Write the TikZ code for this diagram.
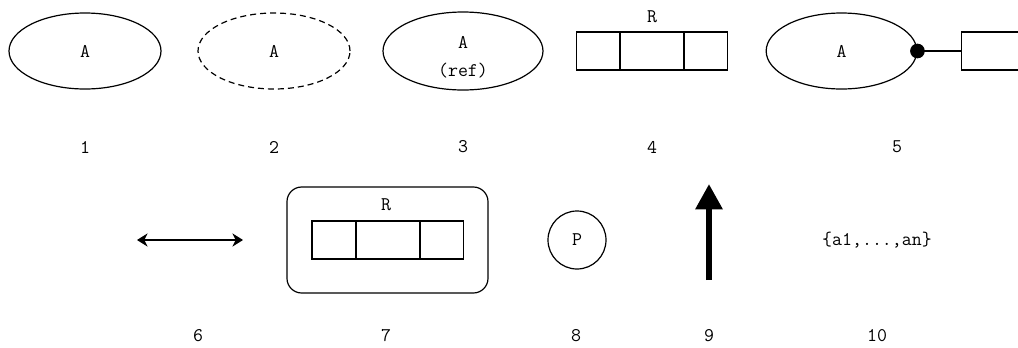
\documentclass[tikz,border=0pt]{standalone}
\usetikzlibrary{shapes.geometric,arrows.meta}
\begin{document}
\begin{tikzpicture}[x=0.75pt,y=-0.75pt,
  txt/.style={font=\ttfamily\fontsize{14.5}{17}\selectfont, inner sep=0pt},
  ent/.style={ellipse, draw, line width=0.9pt, minimum width=114pt, minimum height=57pt, inner sep=0pt, font=\ttfamily\fontsize{14.5}{17}\selectfont},
  cell/.style={rectangle, draw, line width=0.9pt, minimum height=28.5pt, inner sep=0pt},
  narrow/.style={cell, minimum width=32.5pt},
  wide/.style={cell, minimum width=48pt}]
\clip (0,0) rectangle (1018,347);
% 1
\node[ent] (e1) at (85,51) {A};
\node[txt] (l1) at (85,147) {1};
% 2
\node[ent, dashed, dash pattern=on 4.5pt off 3pt] (e2) at (274,51) {A};
\node[txt] (l2) at (274,147) {2};
% 3
\node[ent, minimum width=120pt, minimum height=58.5pt] (e3) at (463,51) {};
\node[txt] (e3a) at (463,42) {A};
\node[txt] (e3b) at (463,71) {(ref)};
\node[txt] (l3) at (463,147) {3};
% 4
\node[narrow] (r4a) at (598.5,51) {};
\node[wide] (r4b) at (652,51) {};
\node[narrow] (r4c) at (705.5,51) {};
\node[txt] (r4l) at (652,17) {R};
\node[txt] (l4) at (652,147) {4};
% 5
\node[ent, minimum width=113pt] (e5) at (841.5,51) {A};
\node[circle, fill=black, minimum size=11pt, inner sep=0pt] (d5) at (e5.east) {};
\node[rectangle, draw, line width=0.9pt, minimum height=28.5pt, minimum width=60pt, inner sep=0pt, anchor=west] (r5) at (961,51) {};
\draw[line width=0.9pt] (d5.center) -- (r5.west);
\node[txt] (l5) at (897,147) {5};
% 6
\coordinate (a6l) at (137,240);
\coordinate (a6r) at (243,240);
\draw[line width=0.9pt, {Stealth[length=8pt,width=10pt,inset=2.5pt]}-{Stealth[length=8pt,width=10pt,inset=2.5pt]}] (a6l) -- (a6r);
\node[txt] (l6) at (198,336) {6};
% 7
\node[draw, line width=0.9pt, rounded corners=11pt, minimum width=150.75pt, minimum height=79.5pt, inner sep=0pt] (b7) at (387.5,240) {};
\node[narrow, minimum width=33pt] (r7a) at (334,240) {};
\node[wide] (r7b) at (388,240) {};
\node[narrow] (r7c) at (441.5,240) {};
\node[txt] (r7l) at (386,205) {R};
\node[txt] (l7) at (386,336) {7};
% 8
\node[circle, draw, line width=0.9pt, minimum size=43.5pt, inner sep=0pt, font=\ttfamily\fontsize{14.5}{17}\selectfont] (c8) at (577,240) {P};
\node[txt] (l8) at (576,336) {8};
% 9
\coordinate (a9b) at (709,280);
\coordinate (a9t) at (709,184);
\draw[line width=4.5pt, -{Triangle[length=19pt,width=19.5pt]}] (a9b) -- (a9t);
\node[txt] (l9) at (709,336) {9};
% 10
\node[txt] (t10) at (877,240) {\{a1,...,an\}};
\node[txt] (l10) at (877,336) {10};
\end{tikzpicture}
\end{document}
